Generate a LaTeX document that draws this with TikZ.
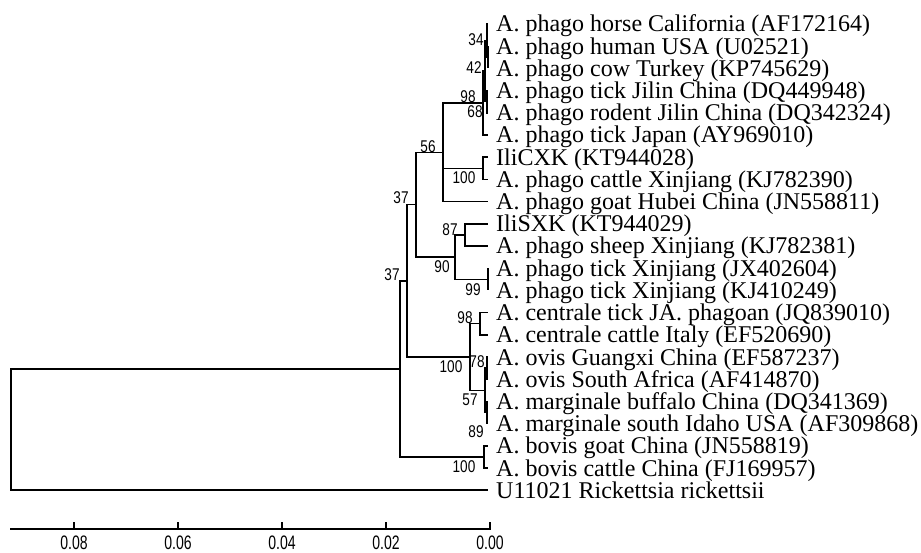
\documentclass[tikz,border=0pt]{standalone}
\usepackage{fontspec}
\setmainfont{Liberation Serif}
\newfontfamily\bsfont[FakeStretch=0.8]{Liberation Sans}
\newfontfamily\axfont[FakeStretch=0.72]{Liberation Sans}
\begin{document}
\begin{tikzpicture}[x=1pt,y=-1pt,
  branch/.style={line width=1.5pt, line join=miter},
  leaf/.style={anchor=base west, inner sep=0pt, font=\fontsize{24}{24}\selectfont},
  boot/.style={inner sep=0pt, font=\bsfont\fontsize{17}{17}\selectfont},
  ticklab/.style={inner sep=0pt, font=\axfont\fontsize{19.5}{19.5}\selectfont}]
\useasboundingbox (0,0) rectangle (921,553);
% leaf tips and labels
\foreach \i/\yy/\txt in {
 0/24/{A. phago horse California (AF172164)},
 1/46.2/{A. phago human USA (U02521)},
 2/68.4/{A. phago cow Turkey (KP745629)},
 3/90.6/{A. phago tick Jilin China (DQ449948)},
 4/112.8/{A. phago rodent Jilin China (DQ342324)},
 5/135/{A. phago tick Japan (AY969010)},
 6/157.2/{IliCXK (KT944028)},
 7/179.4/{A. phago cattle Xinjiang (KJ782390)},
 8/201.6/{A. phago goat Hubei China (JN558811)},
 9/223.8/{IliSXK (KT944029)},
 10/246/{A. phago sheep Xinjiang (KJ782381)},
 11/268.2/{A. phago tick Xinjiang (JX402604)},
 12/290.4/{A. phago tick Xinjiang (KJ410249)},
 13/312.6/{A. centrale tick JA. phagoan (JQ839010)},
 14/334.8/{A. centrale cattle Italy (EF520690)},
 15/357/{A. ovis Guangxi China (EF587237)},
 16/379.2/{A. ovis South Africa (AF414870)},
 17/401.4/{A. marginale buffalo China (DQ341369)},
 18/423.6/{A. marginale south Idaho USA (AF309868)},
 19/445.8/{A. bovis goat China (JN558819)},
 20/468/{A. bovis cattle China (FJ169957)},
 21/490.2/{U11021 Rickettsia rickettsii}}{
  \coordinate (t\i) at (488,\yy);
  \node[leaf] (L\i) at (496,\yy+8) {\txt};
}
% internal nodes
\coordinate (nHC) at (488,57.3);
\coordinate (n34) at (487,40.7);
\coordinate (n68) at (487,101.7);
\coordinate (n42) at (485,71.2);
\coordinate (n98a) at (483,103.1);
\coordinate (n100a) at (483,168.3);
\coordinate (n56) at (443,152.4);
\coordinate (n87) at (465,234.9);
\coordinate (n99) at (488,279.3);
\coordinate (n90) at (455,257.1);
\coordinate (nC) at (416,204.7);
\coordinate (n98b) at (480,323.7);
\coordinate (n78) at (487,368.1);
\coordinate (n89) at (487,412.5);
\coordinate (n57) at (485,390.3);
\coordinate (n100b) at (470,357);
\coordinate (nB) at (407,280.9);
\coordinate (n100c) at (484,456.9);
\coordinate (nA) at (400,368.9);
\coordinate (root) at (11,429.6);
% branches
\draw[branch] (nHC) |- (t1); \draw[branch] (nHC) |- (t2);
\draw[branch] (n34) |- (t0); \draw[branch] (n34) |- (nHC);
\draw[branch] (n68) |- (t3); \draw[branch] (n68) |- (t4);
\draw[branch] (n42) |- (n34); \draw[branch] (n42) |- (n68);
\draw[branch] (n98a) |- (n42); \draw[branch] (n98a) |- (t5);
\draw[branch] (n100a) |- (t6); \draw[branch] (n100a) |- (t7);
\draw[branch] (n56) |- (n98a); \draw[branch] (n56) |- (n100a); \draw[branch] (n56) |- (t8);
\draw[branch] (n87) |- (t9); \draw[branch] (n87) |- (t10);
\draw[branch] (n99) |- (t11); \draw[branch] (n99) |- (t12);
\draw[branch] (n90) |- (n87); \draw[branch] (n90) |- (n99);
\draw[branch] (nC) |- (n56); \draw[branch] (nC) |- (n90);
\draw[branch] (n98b) |- (t13); \draw[branch] (n98b) |- (t14);
\draw[branch] (n78) |- (t15); \draw[branch] (n78) |- (t16);
\draw[branch] (n89) |- (t17); \draw[branch] (n89) |- (t18);
\draw[branch] (n57) |- (n78); \draw[branch] (n57) |- (n89);
\draw[branch] (n100b) |- (n98b); \draw[branch] (n100b) |- (n57);
\draw[branch] (nB) |- (nC); \draw[branch] (nB) |- (n100b);
\draw[branch] (n100c) |- (t19); \draw[branch] (n100c) |- (t20);
\draw[branch] (nA) |- (nB); \draw[branch] (nA) |- (n100c);
\draw[branch] (root) |- (nA); \draw[branch] (root) |- (t21);
% bootstrap values
\node[boot] (b34) at (476,40) {34};
\node[boot] (b42) at (474,68) {42};
\node[boot] (b98a) at (468,97) {98};
\node[boot] (b68) at (475,112) {68};
\node[boot] (b56) at (428,147) {56};
\node[boot] (b100a) at (464,178) {100};
\node[boot] (b37a) at (401,198) {37};
\node[boot] (b87) at (450,230) {87};
\node[boot] (b90) at (442,267) {90};
\node[boot] (b37b) at (392,275) {37};
\node[boot] (b99) at (473,290) {99};
\node[boot] (b98b) at (465,318) {98};
\node[boot] (b78) at (477,362) {78};
\node[boot] (b100b) at (451,367) {100};
\node[boot] (b57) at (470,400) {57};
\node[boot] (b89) at (476,432) {89};
\node[boot] (b100c) at (464,467) {100};
% scale axis
\coordinate (ax0) at (10,529);
\coordinate (ax1) at (490,529);
\draw[line width=1.3pt] (ax0) -- (ax1);
\foreach \v/\xx in {0.08/74,0.06/178,0.04/282,0.02/386,0.00/490}{
  \coordinate (tk\xx) at (\xx,522);
  \draw[line width=1.2pt] (tk\xx) -- (\xx,530);
  \node[ticklab] (lab\xx) at (\xx,543) {\v};
}
\end{tikzpicture}
\end{document}
